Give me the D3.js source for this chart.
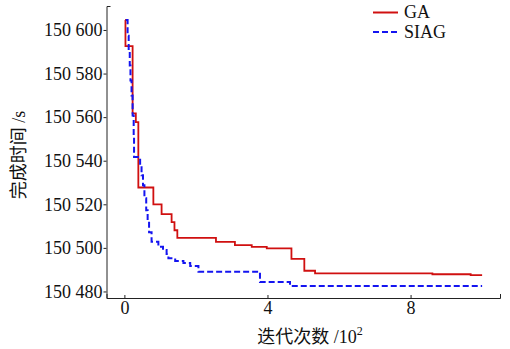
<!DOCTYPE html>
<html>
<head>
<meta charset="utf-8">
<script src="https://cdn.jsdelivr.net/npm/d3@7"></script>
<style>
  body { margin: 0; background: #fff; }
</style>
</head>
<body>
<div id="chart"></div>
<script>
// iterations in units of 10^2, completion time in s (step curves)
const gaIter = [0.02, 0.03, 0.23, 0.32, 0.39, 0.81, 1.04, 1.32, 1.40, 1.48, 2.56, 3.09, 3.56, 3.98, 4.67, 5.03, 5.33, 8.61, 9.68, 10.0];
const gaTime = [150604.6, 150592.6, 150561.7, 150557.7, 150527.7, 150520.0, 150515.5, 150511.8, 150508.1, 150504.6, 150502.8, 150501.3, 150500.5, 150499.8, 150495.0, 150489.5, 150488.3, 150487.9, 150487.5, 150487.5];

const siagIter = [0.04, 0.09, 0.12, 0.15, 0.17, 0.20, 0.23, 0.26, 0.27, 0.44, 0.48, 0.52, 0.56, 0.61, 0.65, 0.69, 0.76, 0.95, 1.08, 1.18, 1.23, 1.42, 1.65, 1.84, 2.07, 3.79, 4.63, 10.0];
const siagTime = [150604.6, 150597.4, 150590.5, 150583.7, 150576.8, 150569.9, 150560.8, 150551.6, 150541.7, 150537.9, 150533.3, 150528.7, 150522.8, 150517.3, 150512.7, 150507.2, 150502.8, 150500.5, 150499.0, 150497.2, 150495.2, 150494.0, 150493.1, 150491.7, 150489.1, 150484.3, 150482.5, 150482.5];

const xTicks = [0, 4, 8];
const yTicks = [150480, 150500, 150520, 150540, 150560, 150580, 150600];
const seriesNames = ["GA", "SIAG"];
const seriesColors = ["#d01010", "#1414f0"];

const width = 510, height = 349;
const serif = "'Liberation Serif', 'Times New Roman', serif";
const cjk = "'Noto Sans CJK SC', sans-serif";

const svg = d3.select("#chart").append("svg")
    .attr("width", width)
    .attr("height", height);

const x = d3.scaleLinear().domain([-0.5, 10.5]).range([106.5, 500]);
const y = d3.scaleLinear().domain([150477, 150611]).range([298, 6]);

// y axis: outward ticks, caps pointing inward
const yAxis = d3.axisLeft(y)
    .tickValues(yTicks)
    .tickSizeInner(3)
    .tickSizeOuter(-4)
    .tickPadding(1)
    .tickFormat(d => d3.format(",")(d).replace(",", " "));

svg.append("g")
    .attr("transform", `translate(${x.range()[0]},0)`)
    .call(yAxis)
    .attr("font-family", null)
    .call(g => g.selectAll("text").style("font-size", "18px").style("font-family", serif).attr("fill", "#111"));

// x axis: ticks pointing up
const xAxis = d3.axisBottom(x)
    .tickValues(xTicks)
    .tickSizeInner(-3)
    .tickSizeOuter(-4)
    .tickPadding(3);

svg.append("g")
    .attr("transform", `translate(0,${y.range()[0]})`)
    .call(xAxis)
    .attr("font-family", null)
    .call(g => g.selectAll("text").style("font-size", "18px").style("font-family", serif).attr("fill", "#111"));

svg.selectAll(".domain, .tick line").attr("stroke", "#222").attr("stroke-width", 1);

const line = d3.line()
    .x(d => x(d[0]))
    .y(d => y(d[1]))
    .curve(d3.curveStepAfter);

const gaPts = gaIter.map((v, i) => [v, gaTime[i]]);
const siagPts = siagIter.map((v, i) => [v, siagTime[i]]);

svg.append("path")
    .datum(gaPts)
    .attr("d", line)
    .attr("fill", "none")
    .attr("stroke", seriesColors[0])
    .attr("stroke-width", 1.8);

svg.append("path")
    .datum(siagPts)
    .attr("d", line)
    .attr("fill", "none")
    .attr("stroke", seriesColors[1])
    .attr("stroke-width", 2)
    .attr("stroke-dasharray", "6,3");

// legend
seriesNames.forEach((name, i) => {
    const ly = 12.5 + i * 19.5;
    svg.append("line")
        .attr("x1", 373).attr("x2", 398)
        .attr("y1", ly).attr("y2", ly)
        .attr("stroke", seriesColors[i])
        .attr("stroke-width", 2)
        .attr("stroke-dasharray", i == 1 ? "6,3" : null);
    svg.append("text")
        .attr("x", 404)
        .attr("y", ly + 5.5)
        .style("font-family", serif)
        .style("font-size", "18px")
        .attr("fill", "#111")
        .text(name);
});

// axis titles: chinese part and latin part in separate tspans
const xt = svg.append("text")
    .attr("x", 310)
    .attr("y", 343)
    .attr("text-anchor", "middle")
    .style("font-size", "18px")
    .attr("fill", "#111");
xt.append("tspan").style("font-family", cjk).text("迭代次数");
xt.append("tspan").style("font-family", serif).text(" /10");
xt.append("tspan")
    .style("font-family", serif)
    .attr("dy", -8)
    .style("font-size", "12px")
    .text("2");

const yt = svg.append("text")
    .attr("transform", "translate(25,155) rotate(-90)")
    .attr("text-anchor", "middle")
    .style("font-size", "18px")
    .attr("fill", "#111");
yt.append("tspan").style("font-family", cjk).text("完成时间");
yt.append("tspan").style("font-family", serif).text(" /s");
</script>
</body>
</html>
